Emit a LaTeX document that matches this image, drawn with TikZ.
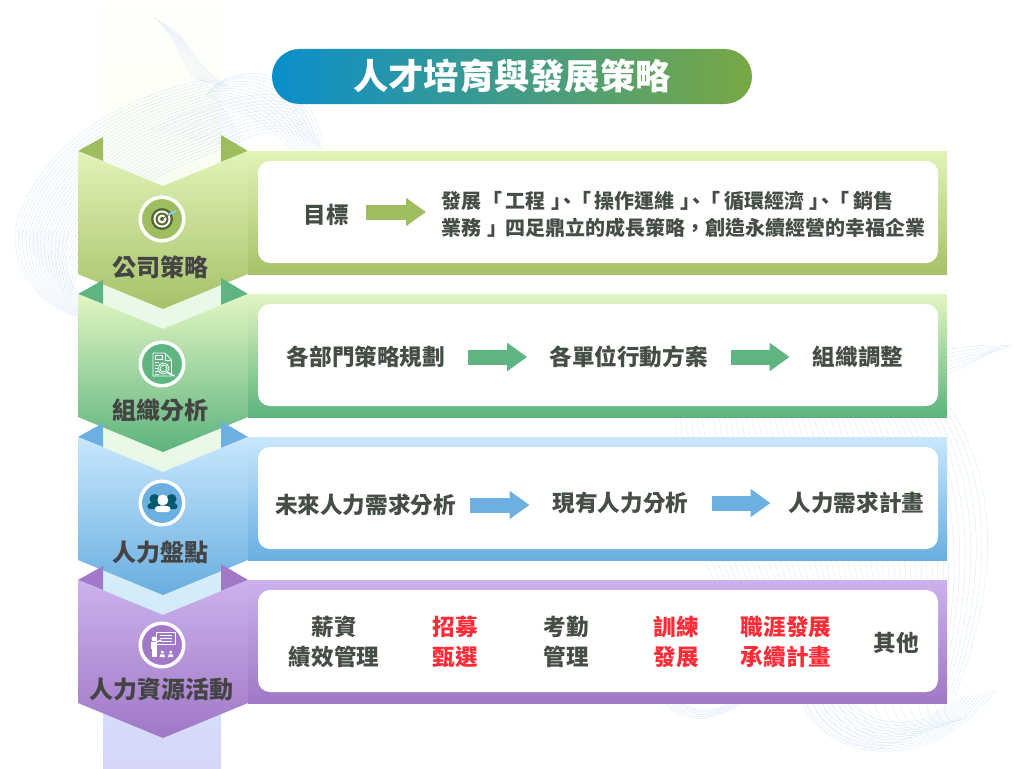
\documentclass[tikz,border=0pt]{standalone}
\usepackage{fontspec}
\setmainfont{Noto Sans CJK TC}
\usetikzlibrary{calc,arrows.meta}

\definecolor{markA}{HTML}{9DBD5F}
\definecolor{markB}{HTML}{5FB581}
\definecolor{markC}{HTML}{6BB0E1}
\definecolor{markD}{HTML}{A278C8}
\definecolor{topA}{HTML}{E2F3B8}
\definecolor{topB}{HTML}{E2F6C2}
\definecolor{topC}{HTML}{C8E7FD}
\definecolor{topD}{HTML}{CBB2EC}
\definecolor{botA}{HTML}{A5C268}
\definecolor{botB}{HTML}{5DB37E}
\definecolor{botC}{HTML}{69AEE0}
\definecolor{botD}{HTML}{A078C6}
\definecolor{wave}{HTML}{D6E6FB}
\definecolor{ink}{HTML}{454E44}
\definecolor{labelink}{HTML}{444444}
\definecolor{hotred}{HTML}{FF2B36}
\definecolor{teal}{HTML}{00596F}
\definecolor{titleleft}{HTML}{0A8FCC}
\definecolor{titleright}{HTML}{78A844}
\definecolor{colA}{HTML}{FFFFFB}
\definecolor{colB}{HTML}{FCFEF3}
\definecolor{colC}{HTML}{E8F9E8}
\definecolor{colD}{HTML}{EAF9E6}
\definecolor{colE}{HTML}{D4ECFA}
\definecolor{colF}{HTML}{D6D6F9}

\tikzset{
  waveline/.style={draw=wave,line width=0.35pt},
  boxtext/.style={inner sep=0pt,text=ink,align=center,font=\fontsize{22.6}{30.5}\selectfont\bfseries},
  hottext/.style={boxtext,text=hotred},
  chevlabel/.style={inner sep=0pt,text=labelink,font=\fontsize{24}{28}\selectfont\bfseries},
  iconring/.style={circle,draw=white,line width=3.5pt,minimum size=43.5pt,inner sep=0pt},
  bigarrow/.style={line width=15pt,-{Triangle[length=20pt,width=27pt]}},
  iconline/.style={draw=white,line width=0.8pt},
}

% a bundle of lines between two curves
\newcommand{\wavefan}[9][0.05]{%
  \foreach \t in {0,#1,...,1.001}
    \draw[waveline] ($#2!\t!#6$) .. controls ($#3!\t!#7$) and ($#4!\t!#8$) .. ($#5!\t!#9$);
}
\newcommand{\closeopen}{\kern5.4pt 」\kern-14pt 、\kern-5.5pt 「\kern3.2pt }

\begin{document}
\begin{tikzpicture}[x=1pt,y=-1pt]
    \useasboundingbox (0,0) rectangle (1024,768);

    % column
    \shade[top color=colA,bottom color=colB] (103,0) rectangle (221,150);
    \shade[top color=colB,bottom color=colC] (103,150) rectangle (221,300);
    \shade[top color=colC,bottom color=colD] (103,300) rectangle (221,450);
    \shade[top color=colD,bottom color=colE] (103,450) rectangle (221,590);
    \shade[top color=colE,bottom color=colF] (103,590) rectangle (221,768);

    % line work behind
    \wavefan[0.15]{(155,18)}{(185,45)}{(180,75)}{(205,82)}{(180,34)}{(196,55)}{(200,68)}{(232,88)}
    \wavefan[0.04]{(205,80)}{(150,90)}{(40,130)}{(15,230)}{(245,140)}{(140,180)}{(90,200)}{(70,300)}
    \wavefan[0.07]{(15,230)}{(12,270)}{(40,310)}{(85,318)}{(70,230)}{(60,270)}{(70,300)}{(110,312)}
    \wavefan[0.08]{(215,85)}{(270,50)}{(320,100)}{(323,150)}{(205,95)}{(240,115)}{(270,125)}{(290,150)}
    \wavefan[0.08]{(150,130)}{(210,100)}{(270,85)}{(300,100)}{(230,150)}{(260,130)}{(290,125)}{(322,150)}
    \wavefan[0.15]{(947,350)}{(965,346)}{(990,344)}{(1013,346)}{(947,376)}{(960,372)}{(975,362)}{(990,352)}
    \wavefan[0.02]{(945,400)}{(1000,480)}{(1000,580)}{(955,695)}{(675,415)}{(680,500)}{(700,600)}{(800,700)}
    \wavefan[0.1]{(800,700)}{(830,770)}{(940,770)}{(995,690)}{(850,700)}{(870,730)}{(930,730)}{(950,700)}
    \wavefan[0.06]{(805,703)}{(815,730)}{(840,745)}{(880,750)}{(950,703)}{(950,720)}{(955,725)}{(970,715)}
    \wavefan[0.2]{(665,703)}{(680,722)}{(710,725)}{(742,703)}{(680,703)}{(695,712)}{(715,712)}{(730,703)}

    % rows
    \foreach \r/\y in {A/151,B/294,C/437,D/580}{
      \fill[color=mark\r] (78,\y) -- (103,\y-14) -- (103,\y+10) -- cycle;
      \fill[color=mark\r] (248,\y) -- (221,\y-16) -- (221,\y+11) -- cycle;
      \shade[top color=top\r,bottom color=bot\r] (248,\y) rectangle (947,\y+123);
      \fill[color=white,rounded corners=12pt] (258,\y+10) rectangle (938,\y+112);
      \shade[top color=top\r,bottom color=bot\r] (78,\y) -- (163,\y+35) -- (248,\y) -- (248,\y+123) -- (163,\y+158) -- (78,\y+123) -- cycle;
    }

    % title
    \node[rounded corners=27.5pt,minimum width=480pt,minimum height=55pt,left color=titleleft,right color=titleright,text=white,inner sep=0pt,font=\fontsize{35.3}{40}\selectfont\bfseries] (title) at (512,76.5) {\raisebox{-1.5pt}{人才培育與發展策略}};

    % left labels
    \node[chevlabel] (labelA) at (160,267) {公司策略};
    \node[chevlabel] (labelB) at (160,410) {組織分析};
    \node[chevlabel] (labelC) at (160,552) {人力盤點};
    \node[chevlabel] (labelD) at (161,689) {人力資源活動};

    % icons
    \node[iconring,fill=markA] (iconA) at (162,219) {};
    \node[iconring,fill=markB] (iconB) at (162,364) {};
    \node[iconring,fill=markC] (iconC) at (162,503) {};
    \node[iconring,fill=markD] (iconD) at (162,645) {};

    \begin{scope}[shift={(iconA.center)}]
      \fill[color=black!45!markA] (0,0) circle (11);
      \fill[color=white] (0,0) circle (8.5);
      \fill[color=black!45!markA] (0,0) circle (6.5);
      \fill[color=white] (0,0) circle (4.5);
      \fill[color=black!45!markA] (0,0) circle (2);
      \draw[color=black!45!markA,line width=0.8pt] (0,0) -- (8,-5);
      \draw[color=cyan!50!white,line width=2pt] (7,-4.5) -- (14,-8);
    \end{scope}

    \begin{scope}[shift={(iconB.center)}]
      \draw[iconline] (3,-11) -- (-9,-11) -- (-9,12) -- (9.5,12) -- (9.5,-4) -- cycle;
      \draw[iconline] (3,-11) -- (3,-4) -- (9.5,-4);
      \draw[iconline] (-7,-9) rectangle (0,-5);
      \foreach \ly in {-2,1,4,7,10}
        \draw[iconline,line width=0.6pt] (-7,\ly) -- (-3,\ly);
      \fill[color=markB] (1.5,4.5) circle (6);
      \draw[iconline] (1.5,4.5) circle (5.5);
      \draw[iconline] (1.5,4.5) circle (3.5);
      \draw[draw=white,line width=1.4pt] (5.5,8.5) -- (12.5,12);
    \end{scope}

    \begin{scope}[shift={(iconC.center)}]
      \fill[color=teal] (-7.5,-4) circle (5);
      \fill[color=teal] (9.5,-4) circle (5);
      \fill[color=teal,rounded corners=3pt] (-15,6) -- (-14,0) -- (-2,0) -- (-1,6) -- cycle;
      \fill[color=teal,rounded corners=3pt] (2,6) -- (3,0) -- (15,0) -- (16,6) -- cycle;
      \fill[color=white] (0.8,-3) circle (5.5);
      \fill[color=white,rounded corners=3pt] (-7,9) -- (-7,3) -- (8.5,3) -- (8.5,9) -- cycle;
    \end{scope}

    \begin{scope}[shift={(iconD.center)}]
      \draw[draw=white,fill=markD,line width=1pt] (-5.3,-12.3) rectangle (13,-0.7);
      \foreach \ly in {-9.5,-6.5,-3.5}
        \draw[iconline,line width=0.7pt] (-2,\ly) -- (10,\ly);
      \fill[color=white] (-8,-6) circle (2.5);
      \fill[color=white] (-11.3,-3.3) rectangle (-4.7,4);
      \fill[color=white] (-10.5,4) rectangle (-8.3,12.3);
      \fill[color=white] (-7.7,4) rectangle (-5.5,12.3);
      \draw[draw=white,line width=1.5pt] (-6,-2.5) -- (-1,-5);
      \foreach \px in {0.3,8.7}{
        \fill[color=white] (\px,7) circle (1.7);
        \fill[color=white] (\px-2.6,12) -- (\px-2,9.3) -- (\px+2,9.3) -- (\px+2.6,12) -- cycle;
      }
    \end{scope}

    % row 1
    \node[boxtext] (goal) at (326,215) {目標};
    \node[inner sep=0pt,text=ink,align=left,anchor=west,font=\fontsize{20}{27}\selectfont\bfseries] (goaltext) at (441,214.5) {發展\kern1pt 「\kern3.6pt 工程\closeopen 操作運維\closeopen 循環經濟\closeopen 銷售\\業務\kern6pt 」\kern-1.4pt 四足鼎立的成長策略，創造永續經營的幸福企業};
    \draw[bigarrow,draw=markA,shorten <=17pt,shorten >=15pt] ([yshift=3pt]goal.east) -- ([yshift=3pt]goal.east -| goaltext.west);

    % row 2
    \node[boxtext] (planA) at (366,357) {各部門策略規劃};
    \node[boxtext] (planB) at (628.5,357) {各單位行動方案};
    \node[boxtext] (planC) at (858,357) {組織調整};
    \draw[bigarrow,draw=markB,shorten <=23pt,shorten >=22pt] (planA) -- (planB);
    \draw[bigarrow,draw=markB,shorten <=23pt,shorten >=23pt] (planB) -- (planC);

    % row 3
    \node[boxtext] (needA) at (365.5,505) {未來人力需求分析};
    \node[boxtext] (needB) at (620.5,503) {現有人力分析};
    \node[boxtext] (needC) at (856.5,503) {人力需求計畫};
    \draw[bigarrow,draw=markC,shorten <=14pt,shorten >=23pt] (needA.east) -- (needA.east -| needB.west);
    \draw[bigarrow,draw=markC,shorten <=23pt,shorten >=18pt] (needB) -- (needC);

    % row 4
    \node[boxtext] (workA) at (334,642) {薪資\\績效管理};
    \node[hottext] (workB) at (455.5,642) {招募\\甄選};
    \node[boxtext] (workC) at (566,642) {考勤\\管理};
    \node[hottext] (workD) at (676,642) {訓練\\發展};
    \node[hottext] (workE) at (786,642) {職涯發展\\承續計畫};
    \node[boxtext] (workF) at (896,643) {其他};
\end{tikzpicture}
\end{document}
